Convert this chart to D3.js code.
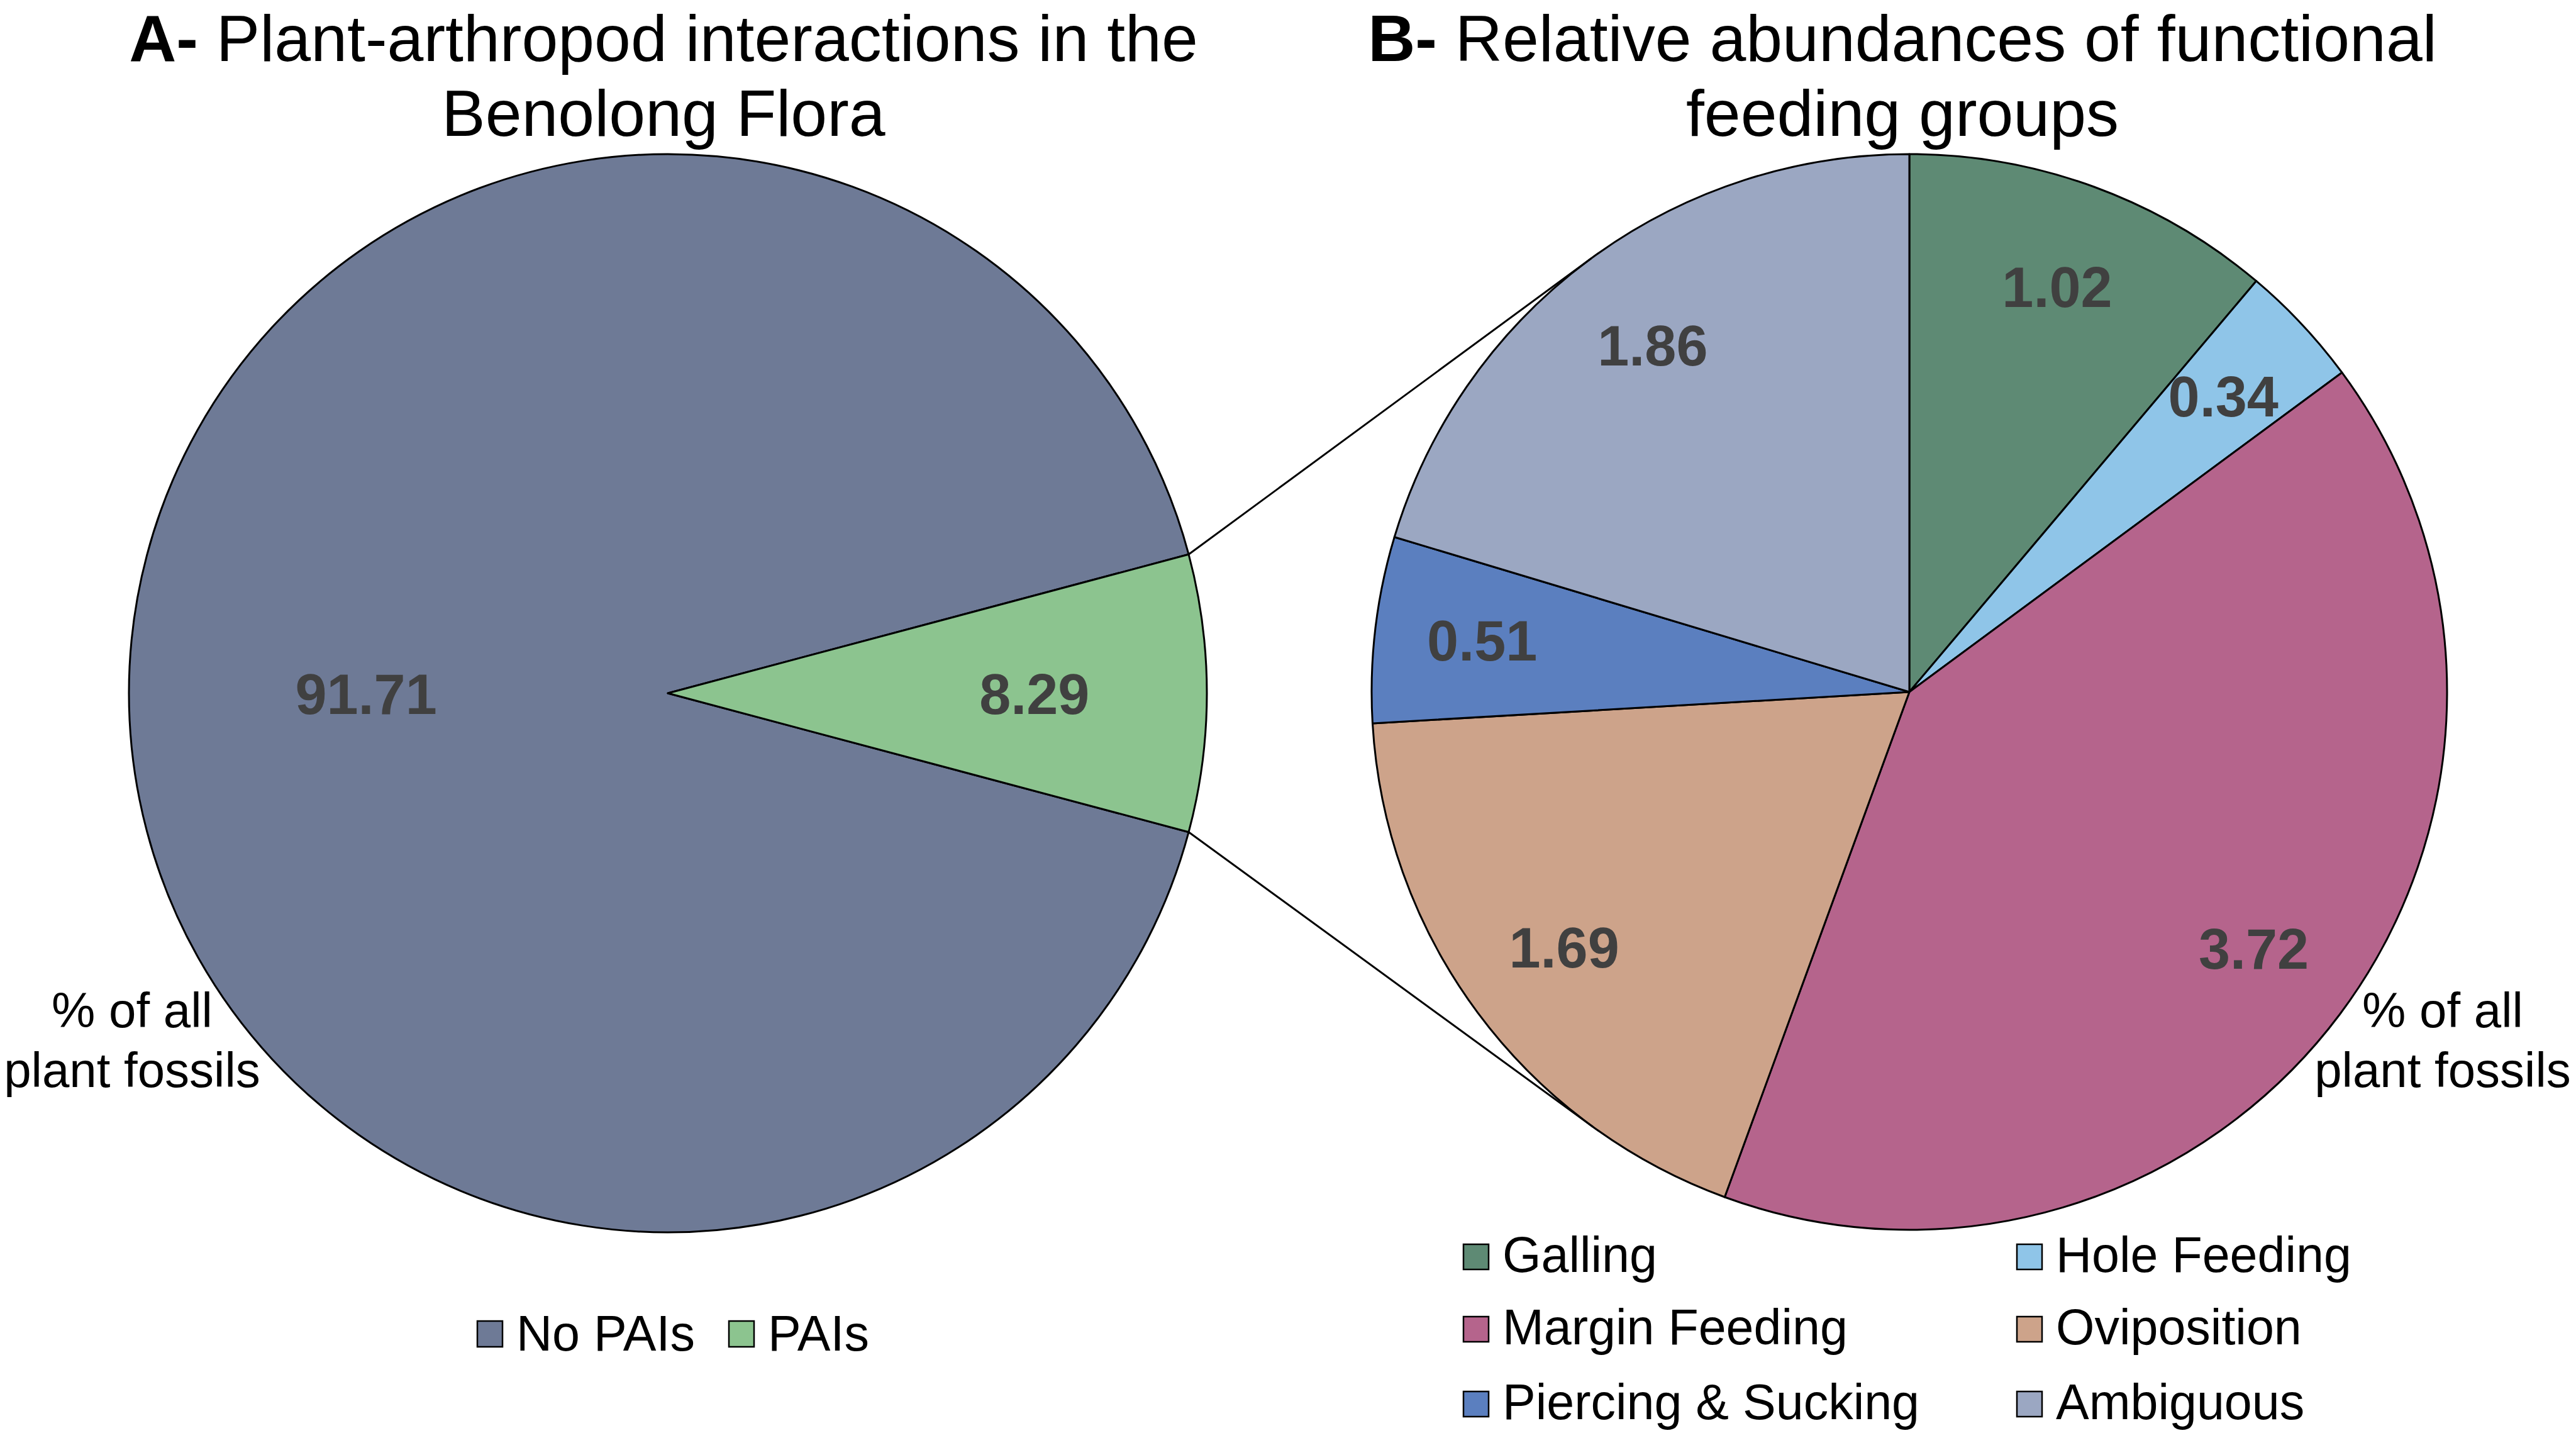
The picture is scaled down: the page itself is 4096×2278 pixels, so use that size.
<!DOCTYPE html>
<html><head><meta charset="utf-8">
<script src="https://cdn.jsdelivr.net/npm/d3@7"></script>
<style>body{margin:0;background:#fff;overflow:hidden}</style>
</head><body><svg id="c" width="4096" height="2278"></svg>
<script>
// ---- data ----
const categoriesA = ["No PAIs", "PAIs"];
const valuesA = [91.71, 8.29];
const categoriesB = ["Galling", "Hole Feeding", "Margin Feeding", "Oviposition", "Piercing & Sucking", "Ambiguous"];
const valuesB = [1.02, 0.34, 3.72, 1.69, 0.51, 1.86];
const titleA = ["A-", " Plant-arthropod interactions in the", "Benolong Flora"];
const titleB = ["B-", " Relative abundances of functional", "feeding groups"];
const axisNote = ["% of all", "plant fossils"];

// ---- style ----
const colorsA = ["#6e7a96", "#8cc48f"];
const colorsB = ["#5e8a74", "#8fc5e8", "#b5648c", "#cda38a", "#5b7fbf", "#9ba7c2"];
const FONT = "'Liberation Sans', Arial, Helvetica, sans-serif";
const LABEL_COLOR = "#404040";
const SW = 3;

const svg = d3.select("#c");
svg.append("rect").attr("width", 4096).attr("height", 2278).attr("fill", "#fff");

const A = {cx: 1062, cy: 1102, r: 857};
const B = {cx: 3036, cy: 1100, r: 855};

const colA = d3.scaleOrdinal().domain(categoriesA).range(colorsA);
const colB = d3.scaleOrdinal().domain(categoriesB).range(colorsB);

// Pie A: PAIs slice centred on the right (3 o'clock)
const totA = d3.sum(valuesA);
const fracBefore = valuesA[0] / totA, fracP = valuesA[1] / totA;
const startA = Math.PI / 2 - 2 * Math.PI * (fracBefore + fracP / 2);
const pieA = d3.pie().sort(null).startAngle(startA).endAngle(startA + 2 * Math.PI);
const arcsA = pieA(valuesA).map((a, i) => Object.assign(a, {k: categoriesA[i]}));
const arcA = d3.arc().innerRadius(0).outerRadius(A.r);

const gA = svg.append("g").attr("transform", `translate(${A.cx},${A.cy})`);
gA.selectAll("path").data(arcsA).join("path")
  .attr("d", arcA).attr("fill", d => colA(d.k))
  .attr("stroke", "#000").attr("stroke-width", SW).attr("stroke-linejoin", "round");

const labelRA = {"No PAIs": 0.56, "PAIs": 0.68};
const lblArcA = k => d3.arc().innerRadius(A.r * labelRA[k]).outerRadius(A.r * labelRA[k]);
gA.selectAll("text").data(arcsA).join("text")
  .attr("x", d => lblArcA(d.k).centroid(d)[0])
  .attr("y", d => lblArcA(d.k).centroid(d)[1] + 33)
  .attr("text-anchor", "middle").attr("font-family", FONT).attr("font-weight", "bold")
  .attr("font-size", 90).attr("fill", LABEL_COLOR)
  .text(d => d3.format(".2f")(d.value));

// Pie B
const pieB = d3.pie().sort(null);
const arcsB = pieB(valuesB).map((a, i) => Object.assign(a, {k: categoriesB[i]}));
const arcB = d3.arc().innerRadius(0).outerRadius(B.r);
const gB = svg.append("g").attr("transform", `translate(${B.cx},${B.cy})`);
gB.selectAll("path").data(arcsB).join("path")
  .attr("d", arcB).attr("fill", d => colB(d.k))
  .attr("stroke", "#000").attr("stroke-width", SW).attr("stroke-linejoin", "round");
const lblArcB = d3.arc().innerRadius(B.r * 0.8).outerRadius(B.r * 0.8);
gB.selectAll("text").data(arcsB).join("text")
  .attr("x", d => lblArcB.centroid(d)[0])
  .attr("y", d => lblArcB.centroid(d)[1] + 30)
  .attr("text-anchor", "middle").attr("font-family", FONT).attr("font-weight", "bold")
  .attr("font-size", 90).attr("fill", LABEL_COLOR)
  .text(d => d3.format(".2f")(d.value));

// Connector lines: from PAIs slice edge points, tangent to pie B
const pa = arcsA[1];
[pa.startAngle, pa.endAngle].forEach((ang, idx) => {
  const px = A.cx + A.r * Math.sin(ang), py = A.cy - A.r * Math.cos(ang);
  const dx = B.cx - px, dy = B.cy - py, d = Math.hypot(dx, dy);
  const base = Math.atan2(dy, dx), off = Math.asin(B.r / d);
  const dir = idx === 0 ? base - off : base + off;
  const len = Math.sqrt(d * d - B.r * B.r);
  svg.append("line").attr("x1", px).attr("y1", py)
    .attr("x2", px + len * Math.cos(dir)).attr("y2", py + len * Math.sin(dir))
    .attr("stroke", "#000").attr("stroke-width", SW).attr("stroke-linecap", "round");
});

// Titles
function title(lines, x) {
  const t = svg.append("text").attr("text-anchor", "middle").attr("font-family", FONT)
    .attr("font-size", 104).attr("fill", "#000");
  const l1 = t.append("tspan").attr("x", x).attr("y", 97);
  l1.append("tspan").attr("font-weight", "bold").text(lines[0]);
  l1.append("tspan").text(lines[1]);
  t.append("tspan").attr("x", x).attr("y", 216).text(lines[2]);
}
title(titleA, 1055);
title(titleB, 3025);

// Side notes
function note(x) {
  const t = svg.append("text").attr("text-anchor", "middle").attr("font-family", FONT)
    .attr("font-size", 78).attr("fill", "#000");
  t.append("tspan").attr("x", x).attr("y", 1633).text(axisNote[0]);
  t.append("tspan").attr("x", x).attr("y", 1728).text(axisNote[1]);
}
note(210);
note(3884);

// Legend A
const legA = svg.append("g");
const legAx = [759, 1159];
categoriesA.forEach((c, i) => {
  legA.append("rect").attr("x", legAx[i]).attr("y", 2100).attr("width", 40).attr("height", 41)
    .attr("fill", colA(c)).attr("stroke", "#000").attr("stroke-width", 2.5);
  legA.append("text").attr("x", legAx[i] + 62).attr("y", 2147).attr("font-family", FONT)
    .attr("font-size", 79).attr("fill", "#000").text(c);
});

// Legend B (2 columns x 3 rows)
const legB = svg.append("g");
const colX = [2327, 3207], rowY = [2022, 2137, 2256];
categoriesB.forEach((c, i) => {
  const x = colX[i % 2], y = rowY[Math.floor(i / 2)];
  legB.append("rect").attr("x", x).attr("y", y - 44).attr("width", 40).attr("height", 40)
    .attr("fill", colB(c)).attr("stroke", "#000").attr("stroke-width", 2.5);
  legB.append("text").attr("x", x + 62).attr("y", y).attr("font-family", FONT)
    .attr("font-size", 79).attr("fill", "#000").text(c);
});
</script></body></html>
